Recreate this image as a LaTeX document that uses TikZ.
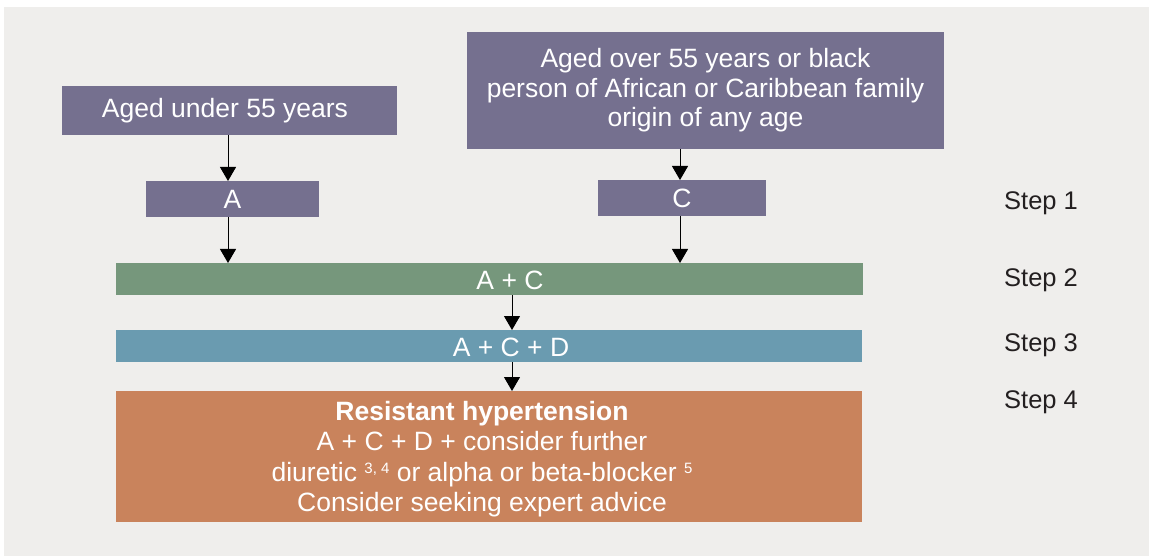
\documentclass[tikz,border=0pt]{standalone}
\usepackage{fontspec}
\setmainfont{Liberation Sans}
\usetikzlibrary{arrows.meta}
\definecolor{bgpanel}{HTML}{EFEEEC}
\definecolor{purp}{HTML}{75708F}
\definecolor{grn}{HTML}{76977C}
\definecolor{blu}{HTML}{6A9BB0}
\definecolor{orng}{HTML}{C9835C}
\definecolor{steptxt}{HTML}{231F20}
\newcommand{\supsm}[1]{\raisebox{0.55ex}{\fontsize{15}{15}\selectfont #1}}
\begin{document}
\begin{tikzpicture}[x=1pt,y=-1pt,
  boxstyle/.style={fill=#1, draw=none, text=white, inner sep=0pt, align=center,
     font=\fontsize{26.5}{29.5}\selectfont},
  boxtext/.style={text=white, inner sep=0pt, align=center, font=\fontsize{26.5}{30.5}\selectfont},
  steplabel/.style={text=steptxt, anchor=west, inner sep=0pt, font=\fontsize{25.5}{30}\selectfont},
  arr/.style={-{Triangle[length=14pt,width=16pt]}, line width=1pt, black}]
\useasboundingbox (0,0) rectangle (1149,556);
\fill[white] (0,0) rectangle (1149,556);
\fill[bgpanel] (4,7) rectangle (1149,556);
% boxes
\node[boxstyle=purp, minimum width=335pt, minimum height=49pt] (u55) at (229.5,110.5) {};
\node[boxtext] (u55t) at (225,111) {Aged under 55 years};
\node[boxstyle=purp, minimum width=477pt, minimum height=117pt] (o55) at (705.5,90.5)
  {Aged over 55 years or black\\person of African or Caribbean family\\origin of any age};
\node[boxstyle=purp, minimum width=173pt, minimum height=36pt] (a) at (232.5,199) {A};
\node[boxstyle=purp, minimum width=168pt, minimum height=36pt] (c) at (682,198) {C};
\node[boxstyle=grn, minimum width=747pt, minimum height=32pt] (ac) at (489.5,279) {};
\node[boxtext] (act) at (510,280) {A + C};
\node[boxstyle=blu, minimum width=746pt, minimum height=32pt] (acd) at (489,346) {};
\node[boxtext] (acdt) at (511,347) {A + C + D};
\node[boxstyle=orng, minimum width=746pt, minimum height=131pt] (rh) at (489,456.5) {};
\node[boxtext] (rht) at (482,459)
  {{\bfseries Resistant hypertension}\\A + C + D + consider further\\diuretic \supsm{3, 4} or alpha or beta-blocker \supsm{5}\\Consider seeking expert advice};
% step labels
\node[steplabel] (s1) at (1004,203) {Step 1};
\node[steplabel] (s2) at (1004,280) {Step 2};
\node[steplabel] (s3) at (1004,345) {Step 3};
\node[steplabel] (s4) at (1004,402) {Step 4};
% arrows
\coordinate (ua) at (228,135);
\coordinate (at) at (228,181);
\draw[arr] (ua) -- (at);
\coordinate (ab) at (228,217);
\coordinate (acl) at (228,263);
\draw[arr] (ab) -- (acl);
\coordinate (ob) at (680,149);
\coordinate (ct) at (680,180);
\draw[arr] (ob) -- (ct);
\coordinate (cb) at (680,216);
\coordinate (acr) at (680,263);
\draw[arr] (cb) -- (acr);
\coordinate (acb) at (512,295);
\coordinate (acdtop) at (512,330);
\draw[arr] (acb) -- (acdtop);
\coordinate (acdb) at (512,362);
\coordinate (rhtop) at (512,391);
\draw[arr] (acdb) -- (rhtop);
\end{tikzpicture}
\end{document}
